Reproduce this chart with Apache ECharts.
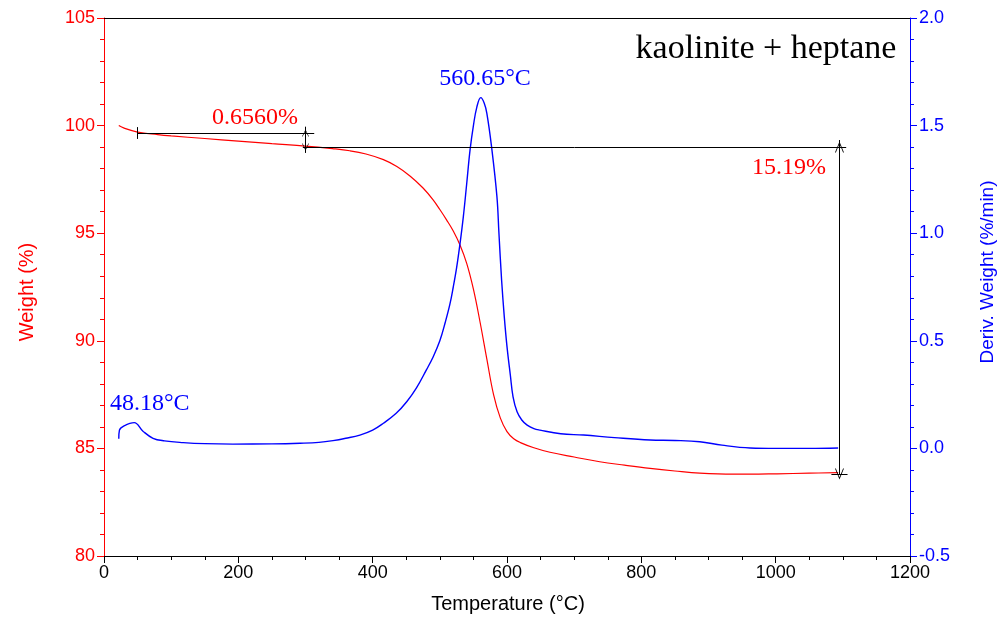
<!DOCTYPE html>
<html>
<head>
<meta charset="utf-8">
<script src="https://cdn.jsdelivr.net/npm/echarts@6/dist/echarts.min.js"></script>
<style>html,body{margin:0;padding:0;background:#fff}#c{width:1000px;height:618px}</style>
</head>
<body>
<div id="c"></div>
<script>
// Weight (%) curve: [temperature °C, weight %]
const weightT = [22,30,50,80,100,150,200,250,300,340,366,390,416,436,456,475,490,500,510,520,530,540,550,560,570,580,590,600,610,620,640,664,700,738,775,813,850,887,937,1002,1050,1093];
const weightW = [100.0,99.88,99.70,99.58,99.52,99.40,99.28,99.16,99.05,98.93,98.83,98.68,98.42,98.10,97.65,97.10,96.55,96.10,95.62,95.10,94.45,93.60,92.40,90.85,89.15,87.50,86.42,85.78,85.45,85.27,85.03,84.82,84.60,84.38,84.22,84.07,83.95,83.85,83.80,83.82,83.85,83.87];
// Derivative weight (%/min)
const derivT = [22,23,30,45,58,73,90,118,150,192,250,292,320,341,360,381,400,416,435,451,465,480,490,500,508,515,520,525,530,535,540,545,550,555,561,566,570,577,585,588,592,596,600,605,609,615,622,630,640,649,680,714,760,813,850,887,920,962,1000,1050,1093];
const derivD = [0.045,0.085,0.105,0.120,0.080,0.047,0.035,0.027,0.022,0.020,0.021,0.024,0.028,0.036,0.047,0.062,0.085,0.117,0.163,0.218,0.280,0.365,0.425,0.500,0.585,0.670,0.750,0.840,0.950,1.077,1.230,1.387,1.500,1.585,1.630,1.605,1.557,1.402,1.170,1.000,0.780,0.610,0.473,0.340,0.240,0.170,0.132,0.108,0.092,0.085,0.068,0.062,0.050,0.039,0.037,0.031,0.015,0.002,0.000,0.000,0.002];

const xTicks = {min: 0, max: 1200, interval: 200};
const yLeft = {min: 80, max: 105, interval: 5};
const yRight = {min: -0.5, max: 2.0, interval: 0.5};

// annotation bracket values (weight % at temperatures)
const stepTop = 99.66, stepBot = 99.0, finalW = 83.81;
const stepT1 = 50, stepT2 = 300, totalT = 1095;

const chart = echarts.init(document.getElementById('c'));
const sans = '"Liberation Sans", Arial, sans-serif';
const serif = '"Liberation Serif", "Times New Roman", serif';
const openArrow = 'path://M0,0 L-5,12 L-4,12 L0,2.4 L4,12 L5,12 Z';

chart.setOption({
  animation: false,
  grid: {left: 104, right: 90, top: 18, bottom: 62},
  xAxis: [{
    type: 'value', position: 'bottom', min: xTicks.min, max: xTicks.max, interval: xTicks.interval,
    axisLine: {onZero: false, lineStyle: {color: '#000', width: 1}},
    axisTick: {show: true, length: 7, lineStyle: {color: '#000'}},
    minorTick: {show: true, splitNumber: 4, length: 4, lineStyle: {color: '#000'}},
    splitLine: {show: false},
    axisLabel: {color: '#000', fontSize: 18, fontFamily: sans, margin: 8, formatter: v => String(v)}
  }, {
    type: 'value', position: 'top', min: xTicks.min, max: xTicks.max,
    axisLine: {show: true, onZero: false, lineStyle: {color: '#000'}},
    axisTick: {show: false}, axisLabel: {show: false}, splitLine: {show: false}
  }],
  yAxis: [{
    type: 'value', position: 'left', min: yLeft.min, max: yLeft.max, interval: yLeft.interval,
    axisLine: {show: true, onZero: false, lineStyle: {color: '#ff0000'}},
    axisTick: {show: true, length: 7, lineStyle: {color: '#ff0000'}},
    minorTick: {show: true, splitNumber: 5, length: 4, lineStyle: {color: '#ff0000'}},
    splitLine: {show: false},
    axisLabel: {color: '#ff0000', fontSize: 18, fontFamily: sans, margin: 9}
  }, {
    type: 'value', position: 'right', min: yRight.min, max: yRight.max, interval: yRight.interval,
    axisLine: {show: true, onZero: false, lineStyle: {color: '#0000ff'}},
    axisTick: {show: true, length: 7, lineStyle: {color: '#0000ff'}},
    minorTick: {show: true, splitNumber: 5, length: 4, lineStyle: {color: '#0000ff'}},
    splitLine: {show: false},
    axisLabel: {color: '#0000ff', fontSize: 18, fontFamily: sans, margin: 9,
      formatter: v => v.toFixed(1)}
  }],
  series: [{
    name: 'Weight', type: 'line', xAxisIndex: 0, yAxisIndex: 0,
    data: weightT.map((t, i) => [t, weightW[i]]),
    showSymbol: false, smooth: 0.4,
    lineStyle: {color: '#ff0000', width: 1.2},
    markLine: {
      silent: true, symbol: 'none', label: {show: false},
      lineStyle: {color: '#000', width: 1, type: 'solid'},
      data: [
        [{coord: [stepT1, stepTop]}, {coord: [313, stepTop]}],
        [{coord: [stepT1, 99.93]}, {coord: [stepT1, 99.38]}],
        [{coord: [stepT2, 99.95]}, {coord: [stepT2, 98.73]}],
        [{coord: [296, stepBot]}, {coord: [1105, stepBot]}],
        [{coord: [stepT2, (stepTop + stepBot) / 2], symbol: 'none'}, {coord: [stepT2, stepTop], symbol: openArrow, symbolSize: [7, 7]}],
        [{coord: [stepT2, (stepTop + stepBot) / 2], symbol: 'none'}, {coord: [stepT2, stepBot], symbol: openArrow, symbolSize: [7, 7]}],
        [{coord: [totalT, 99.33]}, {coord: [totalT, stepBot]}],
        [{coord: [totalT, stepBot], symbol: openArrow, symbolSize: [9, 11]}, {coord: [totalT, finalW], symbol: openArrow, symbolSize: [9, 11]}],
        [{coord: [1083, finalW]}, {coord: [1107, finalW]}]
      ]
    }
  }, {
    name: 'Deriv. Weight', type: 'line', xAxisIndex: 0, yAxisIndex: 1,
    data: derivT.map((t, i) => [t, derivD[i]]),
    showSymbol: false, smooth: 0.4,
    lineStyle: {color: '#0000ff', width: 1.4}
  }],
  graphic: [
    {type: 'text', x: 766, y: 49, style: {text: 'kaolinite + heptane', fill: '#000', font: '34px ' + serif, align: 'center', verticalAlign: 'middle'}},
    {type: 'text', x: 255, y: 118, style: {text: '0.6560%', fill: '#ff0000', font: '24px ' + serif, align: 'center', verticalAlign: 'middle'}},
    {type: 'text', x: 789, y: 168, style: {text: '15.19%', fill: '#ff0000', font: '24px ' + serif, align: 'center', verticalAlign: 'middle'}},
    {type: 'text', x: 485, y: 79, style: {text: '560.65°C', fill: '#0000ff', font: '24px ' + serif, align: 'center', verticalAlign: 'middle'}},
    {type: 'text', x: 110, y: 404, style: {text: '48.18°C', fill: '#0000ff', font: '24px ' + serif, align: 'left', verticalAlign: 'middle'}},
    {type: 'text', x: 508, y: 604, style: {text: 'Temperature (°C)', fill: '#000', font: '20px ' + sans, align: 'center', verticalAlign: 'middle'}},
    {type: 'text', x: 27, y: 292, rotation: Math.PI / 2, style: {text: 'Weight (%)', fill: '#ff0000', font: '20px ' + sans, align: 'center', verticalAlign: 'middle'}},
    {type: 'text', x: 988, y: 272, rotation: Math.PI / 2, style: {text: 'Deriv. Weight (%/min)', fill: '#0000ff', font: '19px ' + sans, align: 'center', verticalAlign: 'middle'}}
  ]
});
</script>
</body>
</html>
